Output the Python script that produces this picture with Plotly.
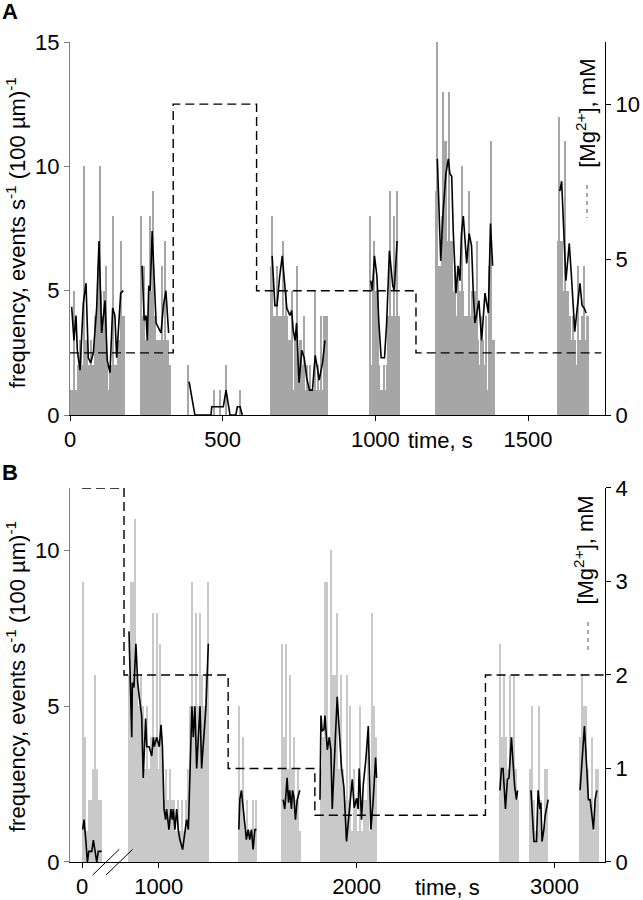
import plotly.graph_objects as go

FONT = "Liberation Sans, Arial, sans-serif"

# ---------------- Panel A data (time in s, frequency in events s-1 (100 um)-1) ----------------
A_BIN = 5
a1_start = 0
a1_counts = [1, 1, 5, 1, 1, 2, 3, 3, 2, 10, 3, 3, 2, 3, 2, 2, 4, 4, 6, 10, 5, 4, 5, 6, 2, 1, 2, 2, 8, 2, 2, 3, 3, 7, 4, 4]
a2_start = 230
a2_counts = [8, 4, 6, 3, 3, 5, 8, 5, 9, 4, 3, 3, 3, 3, 6, 3, 7, 3, 3, 2]
a3_start = 385
a3_counts = [2, 0, 0, 0, 0, 0, 0, 0, 0, 0, 0, 0, 0, 0, 0, 0, 0, 1, 0, 0, 0, 1, 0, 0, 0, 2, 0, 0, 0, 0, 0, 0, 0, 0, 1, 0]
a4_start = 655
a4_counts = [6, 8, 4, 4, 6, 4, 4, 4, 7, 4, 5, 4, 3, 3, 5, 1, 3, 6, 2, 3, 3, 2, 4, 1, 2, 1, 2, 1, 1, 5, 1, 2, 1, 4, 1, 4, 4, 4]
a5_start = 980
a5_counts = [8, 2, 5, 7, 5, 5, 2, 1, 1, 2, 1, 2, 4, 9, 4, 4, 8, 4, 9, 4]
a6_start = 1195
a6_counts = [9, 15, 6, 6, 8, 13, 11, 11, 7, 13, 7, 7, 5, 6, 4, 6, 5, 10, 5, 4, 4, 4, 9, 4, 5, 4, 5, 7, 3, 2, 4, 3, 2, 4, 1, 6, 11, 3, 3]
a7_start = 1595
a7_counts = [7, 12, 7, 7, 5, 11, 5, 5, 4, 3, 4, 3, 2, 6, 3, 3, 4, 6, 3, 4, 4]

# running-average trace, panel A
la1_t = [5.5, 13, 19.6, 24, 32.7, 43.6, 52.4, 60, 67.7, 76.4, 87.3, 95, 103.6, 114.6, 122, 131, 139.7, 147, 152.8, 166, 174.6]
la1_v = [4.35, 3.0, 4.0, 2.6, 1.8, 4.5, 5.3, 2.3, 2.1, 2.5, 4.3, 7.0, 3.3, 4.6, 2.2, 1.7, 4.3, 4.0, 2.3, 4.9, 5.0]
la2_t = [236, 243, 249, 253, 258, 263, 269, 275, 282, 290, 298, 306, 314, 323]
la2_v = [6.0, 3.8, 4.0, 3.0, 5.2, 5.0, 7.4, 5.6, 3.7, 3.5, 3.3, 4.4, 5.0, 3.3]
la3_t = [390, 409, 462, 464, 477, 489, 502, 511, 524, 543, 548, 557, 564]
la3_v = [1.34, 0, 0, 0.33, 0.33, 0.33, 0.33, 1.0, 0, 0, 0.33, 0.33, 0]
la4_t = [662, 671, 678, 686, 695, 704, 710, 720, 726, 731, 737, 742, 750, 759, 767, 775, 784, 794, 803, 810, 816, 827, 835]
la4_v = [6.4, 4.4, 4.4, 5.5, 6.4, 5.0, 4.3, 4.0, 4.2, 3.4, 3.0, 3.7, 1.3, 2.6, 2.3, 1.5, 1.0, 1.0, 2.4, 1.9, 1.4, 2.1, 3.0]
la5_t = [985, 990, 997, 1005, 1011, 1019, 1030, 1037, 1046, 1057, 1062, 1071]
la5_v = [5.4, 5.0, 6.4, 5.6, 3.8, 2.3, 2.3, 3.7, 6.6, 5.2, 5.0, 7.0]
la6_t = [1203, 1214, 1222, 1231, 1239, 1244, 1250, 1255, 1264, 1271, 1277, 1282, 1288, 1299, 1307, 1315, 1321, 1326, 1331, 1339, 1348, 1359, 1370, 1377, 1384]
la6_v = [10.3, 6.2, 8.2, 9.7, 10.3, 9.7, 9.6, 7.4, 4.9, 6.0, 5.4, 7.3, 8.0, 6.1, 7.3, 6.8, 4.8, 3.7, 4.0, 4.6, 3.0, 4.9, 4.1, 7.7, 6.0]
la7_t = [1604, 1610, 1624, 1635, 1642, 1653, 1661, 1670, 1677, 1684, 1690]
la7_v = [9.0, 9.4, 5.4, 6.9, 5.6, 3.35, 4.3, 5.3, 4.4, 4.3, 4.1]

# [Mg2+] steps, panel A (mM)
mgA_t = [0, 338, 611, 1133, 1740]
mgA_v = [2, 10, 4, 2, 2]

# ---------------- Panel B data ----------------
B_BIN = 10
b1_start = 0
b1_counts = [9, 4, 1, 2, 2, 3, 6, 3, 2, 2]
b2_start = 845
b2_counts = [6, 9, 9, 11, 6, 5, 6, 5, 3, 5, 3, 4, 8, 4, 8, 3, 7, 4, 2, 3, 2, 3, 2, 2, 1, 2, 1, 2, 1, 2, 3, 5, 9, 5, 8, 5, 8, 6, 5, 6, 9]
b3_start = 1400
b3_counts = [5, 2, 4, 1, 2, 1, 1, 2, 1, 2]
b4_start = 1620
b4_counts = [7, 4, 7, 3, 6, 3, 4, 2, 3, 1]
b5_start = 1815
b5_counts = [3, 4, 9, 9, 4, 10, 6, 6, 8, 3, 6, 3, 2, 6, 2, 5, 1, 3, 2, 1, 5, 1, 2, 2, 4, 1, 8, 5, 4]
b6_start = 2720
b6_counts = [7, 4, 6, 4, 3, 6, 4, 6, 3, 2]
b7_start = 2870
b7_counts = [3, 5, 2, 1, 1, 5, 2, 1, 3, 3]
b8_start = 3125
b8_counts = [4, 6, 5, 5, 3, 2, 4, 1, 3, 3]

lb1_t = [3, 10, 20, 27, 34, 49, 57, 66, 74, 82, 99]
lb1_v = [1.04, 1.36, 0.6, 0, 0.34, 0.34, 0.7, 0.34, 0, 0.34, 0.34]
lb2_t = [850, 864, 867, 875, 885, 894, 902, 914, 922, 934, 940, 952, 965, 973, 978, 990, 1003, 1012, 1019, 1027,
         1035, 1040, 1052, 1062, 1069, 1074, 1082, 1091, 1099, 1107, 1121, 1133, 1141, 1150, 1161, 1168, 1175, 1183,
         1192, 1200, 1209, 1217, 1229, 1239, 1251]
lb2_v = [7.4, 4.0, 5.75, 5.6, 7.0, 5.75, 5.3, 4.7, 2.7, 4.6, 3.7, 3.7, 3.4, 4.0, 3.7, 4.0, 3.7, 4.4, 3.7, 1.7,
         1.36, 1.7, 1.04, 1.7, 1.36, 1.7, 1.04, 1.7, 1.04, 0.72, 0.4, 1.04, 1.36, 1.04, 4.0, 5.0, 4.0, 5.0,
         3.0, 4.0, 5.0, 3.0, 4.0, 5.0, 7.0]
lb3_t = [1405, 1410, 1418, 1427, 1435, 1443, 1452, 1460, 1469, 1477, 1486, 1494]
lb3_v = [1.04, 2.0, 2.3, 1.7, 1.36, 0.72, 1.04, 0.72, 1.04, 0.4, 1.04, 1.04]
lb4_t = [1629, 1637, 1642, 1649, 1656, 1662, 1671, 1676, 1683, 1691, 1700, 1713]
lb4_v = [2.0, 1.7, 2.1, 2.7, 1.9, 2.3, 1.7, 2.3, 2.1, 1.36, 2.0, 2.3]
lb5_t = [1815, 1820, 1826, 1835, 1840, 1852, 1862, 1870, 1877, 1890, 1902, 1924, 1936, 1949, 1963, 1978, 1988,
         2000, 2008, 2013, 2025, 2034, 2047, 2059, 2072, 2084, 2096, 2101]
lb5_v = [2.0, 4.7, 4.2, 4.25, 4.7, 3.6, 4.0, 3.6, 1.7, 3.4, 5.3, 3.0, 2.4, 0.66, 1.7, 2.65, 1.74,
         2.05, 1.7, 3.0, 1.36, 2.5, 3.3, 4.36, 1.04, 2.0, 3.35, 2.7]
lb6_t = [2724, 2732, 2740, 2752, 2762, 2770, 2782, 2791, 2799, 2808, 2813]
lb6_v = [2.3, 3.0, 3.0, 1.7, 2.65, 2.7, 4.0, 3.2, 2.4, 2.0, 2.3]
lb7_t = [2881, 2887, 2896, 2909, 2917, 2926, 2931, 2937, 2946, 2953, 2959, 2968]
lb7_v = [2.3, 1.7, 0.66, 0.66, 2.3, 1.7, 1.9, 0.66, 1.04, 1.5, 1.7, 2.0]
lb8_t = [3129, 3137, 3151, 3163, 3171, 3180, 3188, 3197, 3205, 3214]
lb8_v = [2.3, 3.0, 4.36, 3.0, 2.0, 2.0, 1.63, 1.04, 2.0, 2.3]

mgB_t = [0, 825, 1351, 1789, 2651, 3255]
mgB_v = [4, 2, 1, 0.5, 2, 2]

# axis break on panel B: times after the break are shifted left
BREAK_T = 500
BREAK_SHIFT = 613


def disp(t):
    return t if t < BREAK_T else t - BREAK_SHIFT


def bars(clusters, binw, transform=lambda t: t):
    xs, ys = [], []
    for start, counts in clusters:
        for i, c in enumerate(counts):
            xs.append(transform(start + binw * i + binw / 2))
            ys.append(c)
    return xs, ys


def joined(segs, transform=lambda t: t):
    xs, ys = [], []
    for ts, vs in segs:
        xs += [transform(t) for t in ts] + [None]
        ys += list(vs) + [None]
    return xs, ys


fig = go.Figure()

# ---- Panel A ----
ax, ay = bars([(a1_start, a1_counts), (a2_start, a2_counts), (a3_start, a3_counts), (a4_start, a4_counts),
               (a5_start, a5_counts), (a6_start, a6_counts), (a7_start, a7_counts)], A_BIN)
fig.add_trace(go.Bar(x=ax, y=ay, width=A_BIN * 0.8, marker=dict(color="#a6a6a6", line=dict(width=0)),
                     xaxis="x", yaxis="y", showlegend=False))
lx, ly = joined([(la1_t, la1_v), (la2_t, la2_v), (la3_t, la3_v), (la4_t, la4_v), (la5_t, la5_v),
                 (la6_t, la6_v), (la7_t, la7_v)])
fig.add_trace(go.Scatter(x=lx, y=ly, mode="lines", line=dict(color="black", width=1.6),
                         xaxis="x", yaxis="y", showlegend=False, connectgaps=False))
fig.add_trace(go.Scatter(x=mgA_t, y=mgA_v, mode="lines", line=dict(color="black", width=1.4, dash="9px,5px", shape="hv"),
                         xaxis="x", yaxis="y2", showlegend=False))

# ---- Panel B ----
bx, by = bars([(b1_start, b1_counts), (b2_start, b2_counts), (b3_start, b3_counts), (b4_start, b4_counts),
               (b5_start, b5_counts), (b6_start, b6_counts), (b7_start, b7_counts), (b8_start, b8_counts)],
              B_BIN, disp)
fig.add_trace(go.Bar(x=bx, y=by, width=B_BIN * 0.7, marker=dict(color="#c9c9c9", line=dict(width=0)),
                     xaxis="x2", yaxis="y3", showlegend=False))
lx, ly = joined([(lb1_t, lb1_v), (lb2_t, lb2_v), (lb3_t, lb3_v), (lb4_t, lb4_v), (lb5_t, lb5_v),
                 (lb6_t, lb6_v), (lb7_t, lb7_v), (lb8_t, lb8_v)], disp)
fig.add_trace(go.Scatter(x=lx, y=ly, mode="lines", line=dict(color="black", width=1.6),
                         xaxis="x2", yaxis="y3", showlegend=False, connectgaps=False))
fig.add_trace(go.Scatter(x=[disp(t) for t in mgB_t], y=mgB_v, mode="lines",
                         line=dict(color="black", width=1.4, dash="9px,5px", shape="hv"),
                         xaxis="x2", yaxis="y4", showlegend=False))

tickfont = dict(family=FONT, size=22, color="black")
ax_common = dict(showgrid=False, zeroline=False, showline=True, linewidth=1, ticks="outside", ticklen=5,
                 tickwidth=1, tickfont=tickfont, automargin=False)

fig.update_layout(
    width=643, height=900,
    margin=dict(l=70, r=38, t=42, b=38, autoexpand=False),
    plot_bgcolor="white", paper_bgcolor="white",
    barmode="overlay", bargap=0,
    font=dict(family=FONT, size=22, color="black"),
    xaxis=dict(domain=[0, 1], anchor="y", range=[0, 1752], tickvals=[0, 500, 1000, 1500],
               linecolor="black", tickcolor="black", **ax_common),
    yaxis=dict(domain=[0.5451, 1], anchor="x", range=[0, 15], tickvals=[0, 5, 10, 15],
               linecolor="#808080", tickcolor="#808080", **ax_common),
    yaxis2=dict(overlaying="y", anchor="x", side="right", range=[0, 12], tickvals=[0, 5, 10],
                linecolor="black", tickcolor="black", **ax_common),
    xaxis2=dict(domain=[0, 1], anchor="y3", range=[-61, 2642],
                tickvals=[disp(0), disp(1000), disp(2000), disp(3000)], ticktext=["0", "1000", "2000", "3000"],
                linecolor="black", tickcolor="black", **ax_common),
    yaxis3=dict(domain=[0, 0.4561], anchor="x2", range=[0, 12], tickvals=[0, 5, 10],
                linecolor="#808080", tickcolor="#808080", **ax_common),
    yaxis4=dict(overlaying="y3", anchor="x2", side="right", range=[0, 4], tickvals=[0, 1, 2, 3, 4],
                linecolor="black", tickcolor="black", **ax_common),
)

ylab = "frequency, events s<sup>-1</sup> (100 µm)<sup>-1</sup>"
mglab = "[Mg<sup>2+</sup>], mM"
ann = [
    dict(text="<b>A</b>", x=-0.112, y=1.0366),
    dict(text="<b>B</b>", x=-0.112, y=0.4744),
    dict(text=ylab, x=-0.101, y=0.768, textangle=-90),
    dict(text=ylab, x=-0.101, y=0.2268, textangle=-90),
    dict(text=mglab, x=0.9640, y=0.9134, textangle=-90),
    dict(text=mglab, x=0.9600, y=0.3805, textangle=-90),
    dict(text="time, s", x=0.6916, y=0.5146),
    dict(text="time, s", x=0.7047, y=-0.0305),
]
for a in ann:
    fig.add_annotation(xref="paper", yref="paper", showarrow=False, xanchor="center", yanchor="middle",
                       font=dict(family=FONT, size=22, color="black"), **a)

# small dashed legend keys for the [Mg2+] traces
for x0, y0, y1 in [(0.9664, 0.8256, 0.7854), (0.9682, 0.2927, 0.2537)]:
    fig.add_shape(type="line", xref="paper", yref="paper", x0=x0, x1=x0, y0=y0, y1=y1,
                  line=dict(color="#555555", width=1, dash="4px,4px"))

# axis-break marks on panel B
for xa, xb in [(0.0424, 0.0921), (0.0673, 0.1172)]:
    fig.add_shape(type="line", xref="paper", yref="paper", x0=xa, x1=xb, y0=-0.0159, y1=0.0155,
                  line=dict(color="black", width=1))

# let the 643x900 figure fill the window exactly (no default page margin), no mode bar
fig.write_html("out.html", config={"displayModeBar": False},
               post_script="document.body.style.margin='0px';")
